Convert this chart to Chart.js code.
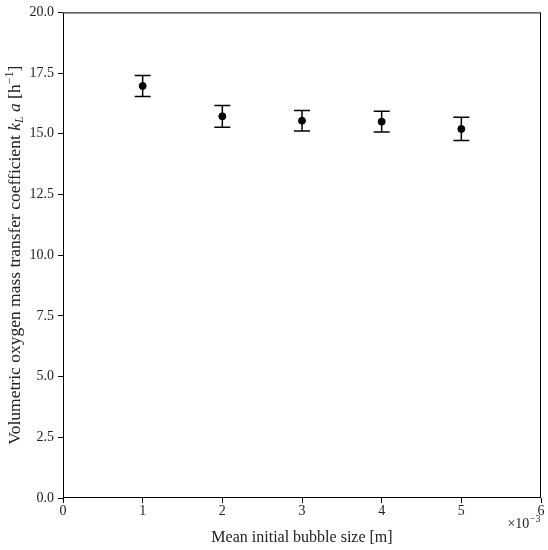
<!DOCTYPE html>
<html>
<head>
<meta charset="utf-8">
<script src="https://cdn.jsdelivr.net/npm/chart.js@4"></script>
<style>
  html, body { margin: 0; padding: 0; background: #fff; }
  #wrap { width: 548px; height: 550px; }
</style>
</head>
<body>
<div id="wrap"><canvas id="chart" width="548" height="550"></canvas></div>
<script>
// ---------- Data ----------
const bubbleSize = [1, 2, 3, 4, 5];                 // x10^-3 m
const kLa = [16.97, 15.72, 15.54, 15.50, 15.20];    // h^-1
const kLaErr = [0.43, 0.45, 0.42, 0.43, 0.48];      // +/- h^-1
const xTicks = [0, 1, 2, 3, 4, 5, 6];
const yTicks = [0, 2.5, 5, 7.5, 10, 12.5, 15, 17.5, 20];

const FONT = "'Liberation Serif', 'DejaVu Serif', serif";

// error bars + box spines + offset text + y label
const extras = {
    id: 'extras',
    afterDatasetsDraw(chart) {
        const ctx = chart.ctx;
        const xs = chart.scales.x, ys = chart.scales.y;
        ctx.save();
        ctx.strokeStyle = '#000';
        ctx.lineWidth = 1.5;
        bubbleSize.forEach((x, i) => {
            const px = xs.getPixelForValue(x);
            const top = ys.getPixelForValue(kLa[i] + kLaErr[i]);
            const bot = ys.getPixelForValue(kLa[i] - kLaErr[i]);
            ctx.beginPath();
            ctx.moveTo(px, top); ctx.lineTo(px, bot);
            ctx.moveTo(px - 8, top); ctx.lineTo(px + 8, top);
            ctx.moveTo(px - 8, bot); ctx.lineTo(px + 8, bot);
            ctx.stroke();
        });
        ctx.restore();
    },
    afterDraw(chart) {
        const ctx = chart.ctx;
        const a = chart.chartArea;
        ctx.save();
        ctx.strokeStyle = '#000';
        ctx.lineWidth = 1;
        ctx.strokeRect(a.left + 0.5, a.top + 0.5, a.right - a.left - 1, a.bottom - a.top - 1);

        // x offset text  ×10^-3, right aligned to the axis end
        ctx.fillStyle = '#222';
        ctx.textBaseline = 'alphabetic';
        ctx.textAlign = 'left';
        ctx.font = '10px ' + FONT;
        const supW = ctx.measureText('−3').width;
        ctx.font = '14px ' + FONT;
        const baseW = ctx.measureText('×10').width;
        let tx = a.right - baseW - supW - 1, ty = a.bottom + 30;
        ctx.fillText('×10', tx, ty);
        ctx.font = '10px ' + FONT;
        ctx.fillText('−3', tx + baseW + 0.5, ty - 6);

        // y axis title with k_L a
        const parts = [
            { t: 'Volumetric oxygen mass transfer coefficient ', f: '17.5px ' + FONT, dy: 0 },
            { t: 'k', f: 'italic 17.5px ' + FONT, dy: 0 },
            { t: 'L', f: 'italic 12px ' + FONT, dy: 3 },
            { t: ' a', f: 'italic 17.5px ' + FONT, dy: 0 },
            { t: ' [h', f: '17.5px ' + FONT, dy: 0 },
            { t: '−1', f: '12px ' + FONT, dy: -7 },
            { t: ']', f: '17.5px ' + FONT, dy: 0 }
        ];
        let total = 0;
        parts.forEach(p => { ctx.font = p.f; p.w = ctx.measureText(p.t).width; total += p.w; });
        ctx.translate(20, (a.top + a.bottom) / 2);
        ctx.rotate(-Math.PI / 2);
        let cx = -total / 2;
        parts.forEach(p => {
            ctx.font = p.f;
            ctx.fillText(p.t, cx, p.dy);
            cx += p.w;
        });
        ctx.restore();
    }
};

new Chart(document.getElementById('chart'), {
    type: 'scatter',
    data: {
        datasets: [{
            data: bubbleSize.map((x, i) => ({ x: x, y: kLa[i] })),
            backgroundColor: '#000',
            borderColor: '#000',
            pointRadius: 3.5,
            pointHoverRadius: 3.5
        }]
    },
    options: {
        responsive: false,
        animation: false,
        layout: { padding: { top: 12, right: 7, left: 0, bottom: 3 } },
        plugins: { legend: { display: false }, tooltip: { enabled: false } },
        scales: {
            x: {
                type: 'linear',
                min: 0, max: 6,
                afterBuildTicks: s => { s.ticks = xTicks.map(v => ({ value: v })); },
                afterFit: s => { s.height = 49; },
                grid: { display: true, drawOnChartArea: false, drawTicks: true, tickLength: 5, color: '#000' },
                border: { display: false },
                ticks: { color: '#222', font: { family: FONT, size: 14 }, padding: 0, callback: v => String(v) },
                title: { display: true, text: 'Mean initial bubble size [m]', color: '#222', font: { family: FONT, size: 16 }, padding: { top: 0, bottom: 0 } }
            },
            y: {
                type: 'linear',
                min: 0, max: 20,
                afterBuildTicks: s => { s.ticks = yTicks.map(v => ({ value: v })); },
                afterFit: s => { s.width = 63; },
                grid: { display: true, drawOnChartArea: false, drawTicks: true, tickLength: 5, color: '#000' },
                border: { display: false },
                ticks: { color: '#222', font: { family: FONT, size: 14 }, padding: 4, callback: v => v.toFixed(1) }
            }
        }
    },
    plugins: [extras]
});
</script>
</body>
</html>
